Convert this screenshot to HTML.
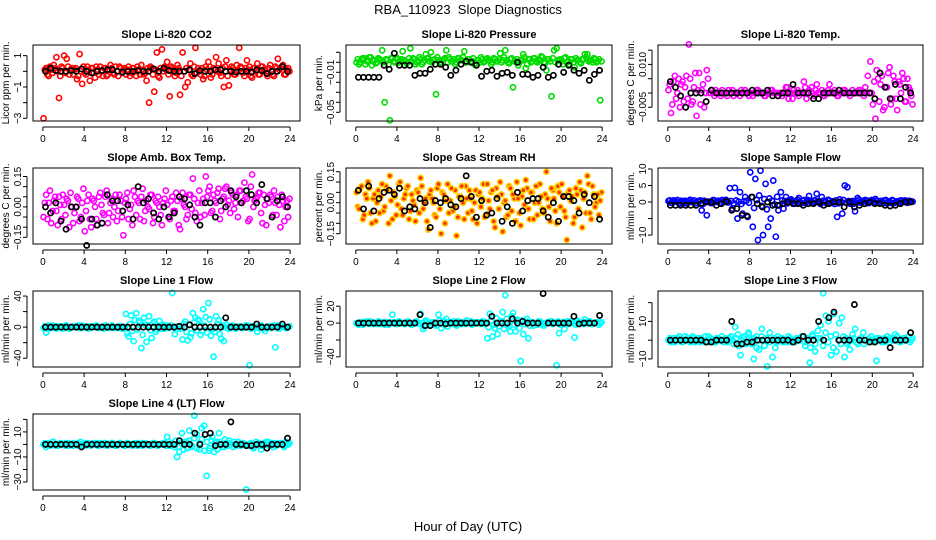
<!DOCTYPE html>
<html><head><meta charset="utf-8"><style>
html,body{margin:0;padding:0;background:#fff}
svg{display:block;font-family:"Liberation Sans",Arial,sans-serif}
</style></head><body>
<svg id="chart" width="936" height="540" viewBox="0 0 936 540">
<text x="468" y="14" text-anchor="middle" font-size="13">RBA_110923&#160; Slope Diagnostics</text>
<text x="468" y="531" text-anchor="middle" font-size="13">Hour of Day (UTC)</text>
</svg>
<script>
const co2Vals=[-3.0,0.2,-0.3,0.1,0.4,0.9,-1.7,0.3,1.0,0.8,-0.2,0.2,0.1,-0.5,1.1,-0.8,-0.1,0.3,-0.6,0.2,-0.4,0.1,0.3,-0.3,0.2,-0.2,0.4,-0.1,0.3,-0.3,0.2,0.1,-0.2,0.3,-0.1,0.2,-0.3,0.1,0.4,-0.2,-0.6,-2.0,0.2,-1.3,1.2,-0.4,1.4,0.3,0.6,-1.6,0.2,-0.3,0.4,-1.5,1.2,-1.0,-0.7,0.5,-0.3,1.5,0.2,-0.2,-0.5,0.3,0.6,-0.4,0.2,0.9,0.5,-0.3,-1.0,0.7,-0.9,0.3,-0.2,0.4,1.5,0.2,-0.3,0.7,0.3,-0.4,0.2,0.5,-0.2,0.3,0.1,-0.3,0.4,-0.2,0.3,0.8,0.2,0.4,-0.2,0.2];
const co2Vals2=[0.1,-0.2,0.3,-0.1,0.2,0.0,-0.3,0.2,-0.1,0.3,0.1,-0.2,0.2,-0.3,0.0,0.3,-0.2,0.1,0.2,-0.1,0.3,-0.2,0.0,0.2,-0.3,0.1,0.2,-0.2,0.0,0.3,-0.1,0.2,0.1,-0.3,0.2,0.0,0.3,-0.2,0.1,-0.1,0.2,0.3,-0.2,0.1,-0.3,0.2,0.0,0.1,-0.2,0.3,0.1,-0.1,0.2,-0.3,0.0,0.2,0.1,-0.2,0.3,-0.1,0.0,0.2,-0.3,0.1,0.3,-0.2,0.1,0.0,-0.1,0.2,0.3,-0.3,0.1,0.2,-0.2,0.0,0.3,-0.1,0.2,0.1,-0.3,0.2,0.0,-0.2,0.3,0.1,-0.1,0.2,0.0,-0.3,0.2,0.1,0.3,-0.2,0.1,0.0];
const co2Black=[0,0.2,0.05,0,0,0.05,0,0.15,0,-0.1,0,0.05,0.1,0.1,0,-0.05,0,0,0.05,0,0,0.15,0,0.2,0.05,0,0,0,0.1,-0.15,0.05,0,0,0.1,0.1,0,0,-0.05,0,0,-0.05,0.1,0.05,-0.15,0,0,0.3,0];
const presVals=[0.0,-0.002,0.003,0.004,0.001,0.005,-0.003,0.002,0.0,0.003,0.012,-0.04,0.002,-0.058,0.004,0.0,0.003,0.002,0.011,0.001,0.0,0.014,0.004,-0.002,0.001,0.003,0.0,0.008,0.004,0.010,0.002,-0.032,0.002,0.0,0.003,0.012,0.005,0.001,0.003,0.0,0.004,0.002,0.011,0.0,0.003,0.001,-0.002,0.002,0.0,0.003,0.001,0.004,0.002,0.0,0.003,0.001,0.009,0.002,0.012,0.0,0.003,-0.025,0.001,-0.003,0.002,0.008,-0.006,0.003,0.0,0.004,0.001,0.002,0.006,0.0,-0.008,0.003,-0.034,0.012,0.014,0.002,0.001,0.004,0.0,-0.002,0.003,-0.005,0.002,0.0,0.003,0.008,0.008,0.002,0.0,0.003,0.001,-0.038];
const presVals2=[0.003,0.0,0.004,-0.002,0.002,0.005,0.001,-0.001,0.004,0.002,0.0,0.003,-0.002,0.004,0.001,0.005,0.0,0.003,0.002,-0.001,0.004,0.001,0.003,0.0,0.005,-0.002,0.002,0.004,0.001,0.0,0.003,0.005,-0.001,0.002,0.004,0.0,0.003,0.001,-0.002,0.004,0.002,0.005,0.0,0.003,0.001,0.004,-0.001,0.002,0.005,0.0,0.003,0.002,-0.002,0.004,0.001,0.003,0.0,0.005,0.002,-0.001,0.004,0.001,0.003,0.0,0.002,0.005,-0.002,0.003,0.001,0.004,0.0,0.002,0.005,-0.001,0.003,0.001,0.004,0.0,0.002,0.003,-0.002,0.005,0.001,0.003,0.0,0.004,0.002,-0.001,0.003,0.005,0.001,0.002,0.004,0.0,0.003,0.001];
const presBlack=[-0.015,-0.015,-0.015,-0.015,-0.015,-0.003,-0.007,0.009,-0.003,-0.003,-0.003,-0.013,-0.011,-0.011,-0.007,-0.002,-0.002,-0.005,-0.013,-0.008,-0.002,0.001,0.0,-0.003,-0.014,-0.009,-0.008,-0.014,-0.011,-0.010,-0.013,0.0,-0.012,-0.012,-0.015,-0.013,-0.005,-0.015,-0.013,-0.002,-0.010,-0.003,-0.008,-0.011,-0.008,-0.018,-0.012,-0.008];
const tempVals=[0.001,-0.007,0.004,-0.002,0.005,0.003,-0.003,0.006,0.017,-0.004,0.002,-0.008,0.007,0.001,-0.005,0.008,0.0,0.001,-0.001,0.0,0.0,0.001,0.0,-0.001,0.0,0.001,0.0,0.0,-0.001,0.0,0.001,0.0,0.0,-0.001,0.0,0.001,0.0,0.0,-0.001,0.0,0.001,0.0,0.0,-0.001,0.0,0.0,0.002,-0.002,0.0,0.001,0.0,-0.001,0.0,0.004,-0.002,0.001,0.002,-0.001,0.003,0.0,0.001,-0.001,0.0,0.003,0.0,0.001,-0.001,0.0,0.0,0.001,0.0,-0.001,0.001,0.0,0.0,0.001,0.0,0.002,0.006,0.011,-0.004,-0.009,0.005,0.003,-0.006,0.002,0.007,-0.004,0.006,-0.002,0.004,0.0,0.005,-0.003,0.002,-0.001];
const tempVals2=[0.003,-0.004,0.006,0.0,-0.005,0.004,0.002,-0.002,0.005,-0.003,0.007,0.001,-0.004,0.003,0.0,0.005,0.0,0.0,0.001,0.0,-0.001,0.0,0.0,0.001,0.0,-0.001,0.0,0.0,0.001,0.0,0.0,-0.001,0.0,0.0,0.001,0.0,0.0,-0.001,0.0,0.0,0.001,0.0,0.0,0.0,-0.001,0.0,0.002,0.0,-0.002,0.0,0.001,0.0,0.0,0.002,0.0,-0.001,0.0,0.001,0.0,0.0,-0.001,0.0,0.001,0.0,0.0,0.0,-0.001,0.0,0.001,0.0,0.0,0.0,0.0,0.0,0.001,0.0,-0.001,0.0,0.0,0.0,0.004,0.008,-0.003,0.006,-0.005,0.002,0.009,-0.002,0.004,-0.006,0.003,0.007,-0.003,0.005,0.001,-0.004];
const tempBlack=[0.004,0.002,-0.001,-0.005,0.0,0.0,0.0,-0.003,0.001,0.0,0.0,0.0,0.0,0.0,0.0,0.0,0.001,0.0,0.0,0.001,-0.001,-0.001,0.0,0.0,0.003,0.0,0.0,0.0,-0.002,-0.002,0.0,0.0,0.0,0.001,0.0,0.0,0.0,0.0,0.0,0.0,-0.002,0.007,0.002,-0.002,0.003,-0.002,0.002,0.0];
const boxVals=[-0.05,0.06,0.02,-0.08,0.03,-0.02,0.05,-0.06,0.01,0.04,-0.1,0.0,-0.03,0.05,-0.07,0.02,-0.12,0.03,-0.06,0.04,0.0,-0.09,0.07,-0.03,0.05,-0.08,0.02,-0.05,0.06,-0.02,0.03,-0.14,0.04,-0.06,0.01,0.08,-0.04,0.02,0.05,-0.07,0.03,-0.01,0.06,-0.05,0.02,0.0,-0.09,0.04,0.01,-0.06,0.05,-0.02,0.03,-0.11,0.07,0.0,-0.04,0.06,0.14,-0.03,0.02,-0.05,0.04,0.15,0.08,-0.03,0.06,0.02,0.09,-0.02,0.05,0.1,0.03,0.07,-0.01,0.06,0.08,0.02,0.12,0.04,-0.06,0.16,0.03,0.05,0.07,-0.08,0.01,0.04,0.06,-0.04,0.02,0.05,-0.1,0.03,0.0,-0.05];
const boxVals2=[0.02,-0.06,0.08,-0.02,0.05,-0.09,0.01,0.06,-0.04,0.03,0.07,-0.08,0.0,0.04,-0.05,0.09,-0.02,0.06,-0.1,0.03,-0.06,0.05,0.01,-0.04,0.08,-0.03,0.04,0.0,-0.07,0.06,-0.05,0.02,0.07,-0.01,-0.09,0.05,0.03,-0.06,0.09,-0.02,0.0,0.06,-0.08,0.03,0.05,-0.04,0.02,0.08,-0.05,0.03,-0.02,0.07,-0.09,0.04,0.01,-0.06,0.06,-0.01,0.04,-0.07,0.08,0.02,-0.04,0.05,0.1,-0.02,0.03,0.07,-0.06,0.04,0.09,0.01,-0.03,0.06,0.02,-0.05,0.08,0.03,0.05,-0.07,0.1,0.0,0.04,0.07,-0.03,0.06,-0.09,0.02,0.05,0.08,-0.04,0.01,0.06,-0.07,0.03,0.04];
const boxBlack=[0.0,-0.03,0.02,-0.07,-0.11,0.0,0.0,-0.06,-0.19,-0.06,-0.09,-0.08,0.06,0.03,0.03,-0.02,0.01,-0.06,0.1,0.02,0.04,-0.03,-0.06,0.0,-0.05,-0.03,0.05,0.04,0.01,-0.05,-0.09,0.02,0.02,-0.05,0.03,0.0,0.08,0.05,0.02,0.08,0.06,0.02,0.11,0.04,-0.05,0.03,0.05,0.0];
const rhVals=[0.05,-0.03,0.08,-0.06,0.02,0.07,-0.1,0.04,0.0,-0.05,0.09,-0.02,0.06,0.13,-0.08,0.03,-0.01,0.1,-0.06,0.04,0.08,-0.04,0.01,-0.09,0.05,0.12,-0.03,0.02,-0.13,0.06,0.0,-0.07,0.09,-0.15,0.04,0.01,-0.05,0.07,-0.02,-0.16,0.03,0.08,-0.08,0.02,0.06,-0.04,0.0,-0.1,0.05,0.02,-0.07,0.09,-0.03,0.06,-0.12,0.03,0.1,-0.14,0.01,-0.06,0.07,0.04,-0.09,0.02,-0.11,0.06,0.11,-0.03,0.05,-0.08,0.08,0.0,0.03,-0.05,0.15,-0.02,0.07,0.02,-0.1,0.05,0.09,-0.04,-0.18,0.06,0.03,-0.07,0.04,0.1,-0.12,0.05,0.13,-0.05,0.08,-0.02,0.04,0.01];
const rhVals2=[-0.02,0.07,-0.08,0.04,0.1,-0.05,0.02,-0.09,0.06,0.03,-0.04,0.08,-0.1,0.01,0.05,-0.06,0.09,-0.03,0.02,0.07,-0.08,0.04,-0.01,0.06,-0.05,0.08,0.0,-0.09,0.04,0.02,-0.06,0.07,-0.03,0.05,-0.1,0.09,0.01,-0.04,0.06,-0.07,0.03,0.0,0.08,-0.05,0.02,-0.08,0.06,0.04,-0.02,0.09,-0.06,0.01,0.05,-0.09,0.07,-0.03,0.04,0.0,-0.07,0.08,-0.04,0.02,0.1,-0.05,0.03,-0.01,0.07,-0.08,0.05,0.0,-0.06,0.09,-0.03,0.04,0.02,-0.09,0.06,-0.04,0.08,-0.02,0.03,-0.07,0.05,0.01,-0.1,0.07,-0.03,0.06,0.02,-0.05,0.09,-0.08,0.04,0.0,-0.06,0.05];
const rhBlack=[0.06,-0.03,0.08,-0.04,0.02,0.05,0.06,0.04,0.07,-0.04,-0.02,-0.03,0.02,0.0,-0.12,0.01,0.0,0.02,-0.01,-0.02,0.02,0.13,0.03,-0.07,0.01,-0.06,-0.05,0.02,-0.09,-0.02,-0.1,0.05,-0.04,0.01,0.02,0.02,-0.04,-0.07,0.0,-0.09,0.03,0.03,0.01,-0.05,0.04,0.0,0.03,-0.08];
const flowVals=[0.3,-0.2,0.5,0.1,-0.3,0.4,0.2,-0.4,0.3,0.0,0.5,-0.3,0.2,-2.5,0.4,-4.0,0.1,-0.3,0.5,0.2,-0.2,0.6,0.3,-0.1,4.2,-2.0,4.3,-5.0,3.0,-3.5,1.5,-4.5,9.0,-7.5,7.0,-11.5,9.5,-10.0,5.5,-7.5,-5.0,6.5,-10.5,-2.5,3.0,-2.0,1.5,0.5,0.8,-0.5,0.3,1.2,-0.4,0.6,0.2,1.8,-0.3,0.5,2.5,-0.2,1.5,0.3,-0.5,0.4,0.2,-0.6,-4.5,0.8,-3.5,5.0,4.5,-0.5,0.3,-2.8,1.2,-0.2,0.4,0.6,-0.3,0.2,0.5,0.9,-0.2,0.3,-0.4,0.6,0.2,-0.3,0.4,0.1,-0.2,0.5,0.3,-0.1,0.4,0.2];
const flowVals2=[0.5,-0.3,0.2,0.6,-0.5,0.1,0.4,-0.2,0.7,0.0,-0.4,0.3,0.5,-0.6,0.2,0.1,-0.3,0.6,0.0,0.4,-0.5,0.2,0.7,-0.1,0.3,-0.4,0.5,0.1,-0.6,0.2,0.4,-0.2,1.5,-1.8,0.6,2.0,-1.2,0.9,-2.2,1.1,0.4,-0.7,1.6,-1.0,0.5,0.3,-0.4,0.6,0.2,-0.5,0.7,0.0,0.4,-0.3,0.6,0.1,-0.2,0.5,0.3,-0.6,0.4,0.0,0.7,-0.3,0.2,0.5,-0.4,0.1,0.6,-0.2,0.3,0.0,-0.5,0.4,0.7,-0.1,0.2,0.5,-0.3,0.6,0.0,0.4,-0.2,0.3,0.5,-0.4,0.1,0.6,-0.3,0.2,0.4,0.0,0.5,-0.2,0.3,0.1];
const flowBlack=[-1,-1,-1,-1,-1,-1,-0.5,0,0,-1,-0.5,0.2,-2.5,-2,-4,-4.2,1.5,-0.5,-1.5,0,-1,-1,-0.5,0,-0.5,-0.5,-1,-0.5,-0.5,0,-1,-0.5,0,0,-1.5,0,-1.5,-1,-0.5,0,-0.5,-0.5,-1,-1.2,-1,-0.5,0,0];
const line1Vals=[-1,-7,2,-1,1,-2,0,1,-1,2,-2,0,1,0,-1,2,0,-1,1,0,0,1,-1,0,2,0,-1,1,0,-1,1,0,17,-12,15,-18,18,8,-27,12,-19,14,-14,7,-3,8,1,-2,2,0,44,-9,1,-2,-16,7,-17,-13,18,12,10,-10,23,13,31,-11,-38,14,9,-15,-18,3,-2,1,0,-1,1,-1,0,2,-49,1,0,-6,2,0,-5,1,-1,0,-26,2,0,1,-1,0];
const line1Vals2=[1,-2,0,2,-1,1,0,-2,2,0,-1,1,0,2,-1,0,1,-2,0,1,2,-1,0,-2,1,0,2,-1,0,1,-2,0,-8,4,-5,9,-3,6,-10,3,2,-4,5,-6,1,-2,3,0,-1,2,0,-3,1,-1,4,-6,3,-8,6,-4,8,-5,2,-7,10,-3,-6,4,-9,2,0,-1,1,2,-2,0,1,-1,2,0,-2,1,0,-1,2,-2,0,1,-1,2,0,-2,1,0,-1,1];
const line1Black=[0,0,0,0,0,0,0,0,0,0,0,0,0,0,0,0,0,0,0,0,0,0,0,0,0,0,1,0,3,0,0,0,0,0,0,12,0,0,0,0,0,4,0,0,0,0,4,0];
const line2Vals=[0,-2,1,0,2,-1,1,0,-1,0,1,-2,0,1,10,0,-1,1,0,-1,2,0,-1,1,0,11,-7,3,0,-2,1,-3,10,-6,2,5,-1,0,2,-3,1,-1,0,3,0,-2,1,0,0,2,-1,-18,11,-16,-6,-13,1,13,33,-1,-10,12,-10,3,-45,-13,2,-18,1,-3,0,2,-1,-3,0,1,2,0,-50,-12,0,-7,2,-1,1,-17,3,0,1,4,0,2,-1,0,1,0];
const line2Vals2=[-1,1,-2,0,1,2,-1,0,2,-1,0,1,-2,0,1,-1,2,0,-1,1,0,-2,1,2,-1,0,-4,2,-3,1,0,-2,3,-1,2,-4,1,0,-2,2,0,1,-1,0,2,-1,0,1,-1,2,0,-5,3,-2,6,-4,2,-7,5,-3,8,-2,4,-6,3,-1,5,-3,1,0,-2,2,0,-1,1,2,-1,0,2,-2,1,0,-1,2,0,-2,1,0,-1,1,2,-1,0,1,-2,1];
const line2Black=[0,0,0,0,0,0,0,0,0,0,0,0,10,-3,-3,0,0,-1,0,0,0,0,0,0,0,0,8,0,0,0,5,0,2,0,0,0,35,0,0,0,0,0,8,-1,0,0,0,9];
const line3Vals=[0,-1,1,0,2,-1,0,1,0,2,-1,0,1,0,-1,2,0,-1,1,0,2,0,-1,1,0,7,3,-8,1,-2,4,0,-10,2,-5,6,-3,-14,4,-9,-4,2,1,-1,0,2,-1,0,1,0,2,-1,0,-12,3,-6,1,8,25,13,10,-8,14,-6,9,12,-9,-2,-5,3,6,-2,1,4,0,-1,2,0,-11,1,0,-1,2,1,0,3,0,-1,1,0,2,0];
const line3Vals2=[1,0,-1,1,0,-1,2,0,-1,1,0,1,-1,0,2,-1,1,0,-1,1,0,-1,1,0,2,-2,1,-3,0,2,-1,3,-2,1,-4,0,2,-3,1,-1,0,1,-1,0,1,0,-1,1,0,-1,1,0,2,-3,1,-4,2,-2,5,1,-3,4,-1,2,-4,3,0,-2,2,1,-1,0,1,-1,0,1,-2,0,1,0,-1,1,0,-1,1,0,-1,1,0,2,-1,0,1,0,-1,1];
const line3Black=[0,0,0,0,0,0,0,-1,-1,0,0,0,10,-2,-2,-1,-1,0,0,0,0,0,0,0,-1,0,2,0,0,10,0,12,15,0,0,0,19,0,0,-1,-1,0,0,-4,0,0,0,4];
const line4Vals=[0,-2,1,0,2,-1,0,1,0,1,-1,0,1,0,-1,2,0,-1,1,0,1,0,-1,1,0,1,-1,0,1,-1,0,1,0,-1,1,0,0,1,-1,0,1,0,0,-1,0,1,-1,0,0,1,6,-1,1,-2,-10,-6,9,2,-3,11,-1,23,8,-4,13,15,-25,-5,3,-6,2,9,0,-2,1,3,0,2,-1,0,1,0,-36,-1,0,-3,2,0,-4,1,0,2,1,-2,0,1,0,-1,2,0];
const line4Vals2=[1,0,-1,2,0,-1,1,0,-1,1,0,-1,0,1,0,-1,1,0,-1,0,1,-1,0,1,-1,0,1,0,-1,1,0,-1,1,0,-1,0,1,0,-1,1,0,-1,1,0,-1,0,1,-1,2,-1,0,3,-2,1,-4,2,3,-2,5,-3,1,4,-5,2,-3,6,1,-4,2,-2,4,-1,1,-2,0,2,-1,1,0,-1,1,-2,0,1,-1,0,2,-1,0,1,-1,0,1,-2,0,1];
const line4Black=[0,0,0,0,0,0,0,-2,0,0,0,0,0,0,0,0,0,0,0,0,0,0,0,0,0,0,3,0,0,9,0,8,9,-1,0,0,18,0,0,-1,-1,0,0,-3,0,0,0,5];
const xTicks=[0,4,8,12,16,20,24];

const NS='http://www.w3.org/2000/svg';
const svg=document.getElementById('chart');
function mk(tag,attrs,parent){const e=document.createElementNS(NS,tag);for(const k in attrs)e.setAttribute(k,attrs[k]);(parent||svg).appendChild(e);return e;}
const colL=[33,346,658],colR=[300,612,923],rowT=[45,168,291,414],H=76;
const panels=[
 {id:'co2',t:'Slope Li-820 CO2',yl:'Licor ppm per min.',c:0,r:0,ylim:[-3.17,1.68],ticks:[-3,-2,-1,0,1],labs:[1,-1,-3],v:co2Vals,v2:co2Vals2,b:co2Black,col:'#ff0000',fill:'none'},
 {id:'pressure',t:'Slope Li-820 Pressure',yl:'kPa per min.',c:1,r:0,ylim:[-0.0587,0.0173],ticks:[0.01,0,-0.01,-0.02,-0.03,-0.04,-0.05],labs:[-0.01,-0.05],fmt:2,v:presVals,v2:presVals2,b:presBlack,col:'#00dd00',fill:'none'},
 {id:'temp',t:'Slope Li-820 Temp.',yl:'degrees C per min.',c:2,r:0,ylim:[-0.0098,0.0168],ticks:[0.015,0.01,0.005,0,-0.005],labs:[0.01,-0.005],fmt:3,v:tempVals,v2:tempVals2,b:tempBlack,col:'#ff00ff',fill:'none'},
 {id:'amb-box-temp',t:'Slope Amb. Box Temp.',yl:'degrees C per min.',c:0,r:1,ylim:[-0.183,0.192],ticks:[0.15,0.1,0.05,0,-0.05,-0.1,-0.15],labs:[0.15,0,-0.15],fmt:2,v:boxVals,v2:boxVals2,b:boxBlack,col:'#ff00ff',fill:'none'},
 {id:'gas-rh',t:'Slope Gas Stream RH',yl:'percent per min.',c:1,r:1,ylim:[-0.2,0.168],ticks:[0.15,0.1,0.05,0,-0.05,-0.1,-0.15],labs:[0.15,0,-0.15],fmt:2,v:rhVals,v2:rhVals2,b:rhBlack,col:'#ffd000',fill:'#ff3000'},
 {id:'sample-flow',t:'Slope Sample Flow',yl:'ml/min per min.',c:2,r:1,ylim:[-12.7,10.3],ticks:[10,5,0,-5,-10],labs:[10,5,0,-10],v:flowVals,v2:flowVals2,b:flowBlack,col:'#0000ff',fill:'none'},
 {id:'line1-flow',t:'Slope Line 1 Flow',yl:'ml/min per min.',c:0,r:2,ylim:[-51.3,46.5],ticks:[40,20,0,-20,-40],labs:[40,0,-40],v:line1Vals,v2:line1Vals2,b:line1Black,col:'#00ffff',fill:'none'},
 {id:'line2-flow',t:'Slope Line 2 Flow',yl:'ml/min per min.',c:1,r:2,ylim:[-52,38],ticks:[20,0,-20,-40],labs:[20,0,-40],v:line2Vals,v2:line2Vals2,b:line2Black,col:'#00ffff',fill:'none'},
 {id:'line3-flow',t:'Slope Line 3 Flow',yl:'ml/min per min.',c:2,r:2,ylim:[-14.3,26.2],ticks:[20,10,0,-10],labs:[10,-10],v:line3Vals,v2:line3Vals2,b:line3Black,col:'#00ffff',fill:'none'},
 {id:'line4-flow',t:'Slope Line 4 (LT) Flow',yl:'ml/min per min.',c:0,r:3,ylim:[-36.4,24.3],ticks:[20,10,0,-10,-20,-30],labs:[10,-10,-30],v:line4Vals,v2:line4Vals2,b:line4Black,col:'#00ffff',fill:'none'}
];
panels.forEach(p=>{
 const L=colL[p.c],R=colR[p.c],T=rowT[p.r],B=T+H;
 const g=mk('g',{});
 
 
 const xs=h=>L+(R-L)*(h+0.96)/25.92;
 const ys=v=>B-(B-T)*(v-p.ylim[0])/(p.ylim[1]-p.ylim[0]);
 const title=mk('text',{x:(L+R)/2,y:T-7,'text-anchor':'middle','font-size':11,'font-weight':'bold'},g);
 title.textContent=p.t;
 
 
 const yt=mk('text',{transform:`translate(${L-24},${(T+B)/2}) rotate(-90)`,'text-anchor':'middle','font-size':10},g);
 yt.textContent=p.yl;
 
 
 const pts=mk('g',{},g);
 
 
 [[p.v2,0.75],[p.v,0.25]].forEach(([arr,off])=>{
  arr.forEach((v,i)=>{
   const h=(i+off)*24/arr.length;
   const c=mk('circle',{cx:xs(h),cy:ys(v),r:2.6,fill:p.fill,stroke:p.col,'stroke-width':1.6},pts);
   
   
  });
 });
 p.b.forEach((v,i)=>{
  const h=(i+0.5)*24/p.b.length;
  const c=mk('circle',{cx:xs(h),cy:ys(v),r:2.6,fill:'none',stroke:'#000','stroke-width':1.7},pts);
  
  
 });
 const box=mk('rect',{x:L,y:T,width:R-L,height:B-T,fill:'none',stroke:'#000','stroke-width':1},g);
 
 
 const xa=mk('g',{},g);
 
 
 mk('line',{x1:xs(xTicks[0]),x2:xs(xTicks[xTicks.length-1]),y1:B+6,y2:B+6,stroke:'#000'},xa);
 xTicks.forEach(t=>{
  mk('line',{x1:xs(t),x2:xs(t),y1:B+6,y2:B+10,stroke:'#000'},xa);
  const tx=mk('text',{x:xs(t),y:B+21,'text-anchor':'middle','font-size':10},xa);
  tx.textContent=t;
 });
 const ya=mk('g',{},g);
 
 
 const tmin=Math.min(...p.ticks),tmax=Math.max(...p.ticks);
 mk('line',{x1:L-6,x2:L-6,y1:ys(tmin),y2:ys(tmax),stroke:'#000'},ya);
 p.ticks.forEach(t=>mk('line',{x1:L-10,x2:L-6,y1:ys(t),y2:ys(t),stroke:'#000'},ya));
 p.labs.forEach(t=>{
  const s=p.fmt!==undefined?t.toFixed(p.fmt):String(t);
  const tx=mk('text',{transform:`translate(${L-12},${ys(t)}) rotate(-90)`,'text-anchor':'middle','font-size':10},ya);
  tx.textContent=s.replace('-','\u2212');
 });
});
</script>
</body></html>
